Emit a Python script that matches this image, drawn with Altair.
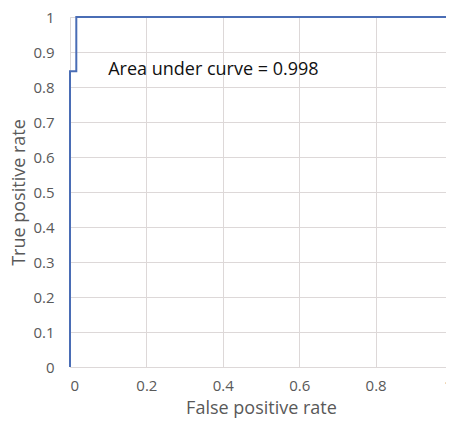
import altair as alt
import pandas as pd

fpr = [0.0, 0.0, 0.0165, 0.0165, 1.0]
tpr = [0.0, 0.845, 0.845, 1.0, 1.0]
order = list(range(len(fpr)))

x_ticks = [0, 0.2, 0.4, 0.6, 0.8, 1]
y_ticks = [0, 0.1, 0.2, 0.3, 0.4, 0.5, 0.6, 0.7, 0.8, 0.9, 1]

label_text = ["Area under curve = 0.998"]
label_x = [0.1]
label_y = [0.848]

df = pd.DataFrame({"fpr": fpr, "tpr": tpr, "order": order})
lab = pd.DataFrame({"text": label_text, "x": label_x, "y": label_y})

FONT = "Open Sans"
GREY = "#595959"

xscale = alt.Scale(domain=[0, 1], nice=False, zero=False)
yscale = alt.Scale(domain=[0, 1], nice=False, zero=False)

xaxis = alt.Axis(values=x_ticks, format="~g",
                 grid=True, gridColor="#DDD8D8", gridWidth=1,
                 domain=False, ticks=False, labelPadding=11,
                 labelOverlap=False,
                 labelFont=FONT, labelFontSize=15, labelColor=GREY,
                 titleFont=FONT, titleFontSize=18, titleColor=GREY,
                 titleFontWeight="normal", titlePadding=6)
yaxis = alt.Axis(values=y_ticks, format="~g",
                 grid=True, gridColor="#DDD8D8", gridWidth=1,
                 domain=False, ticks=False, labelPadding=16,
                 labelOverlap=False,
                 labelFont=FONT, labelFontSize=15, labelColor=GREY,
                 titleFont=FONT, titleFontSize=18, titleColor=GREY,
                 titleFontWeight="normal", titlePadding=4)

line = alt.Chart(df).mark_line(color="#4A6DB5", strokeWidth=2, clip=False).encode(
    x=alt.X("fpr:Q", scale=xscale, title="False positive rate", axis=xaxis),
    y=alt.Y("tpr:Q", scale=yscale, title="True positive rate", axis=yaxis),
    order="order:O",
)

text = alt.Chart(lab).mark_text(align="left", baseline="middle", font=FONT,
                                fontSize=18, color="#111111").encode(
    x=alt.X("x:Q", scale=xscale, title="False positive rate", axis=xaxis),
    y=alt.Y("y:Q", scale=yscale, title="True positive rate", axis=yaxis),
    text="text:N",
)

chart = (line + text).properties(
    width=382, height=350,
    padding={"left": 62, "top": 9, "right": -6, "bottom": 52},
    autosize=alt.AutoSizeParams(type="none"),
).configure_view(stroke=None).configure(background="white")

chart.save("out.html", embed_options={"renderer": "svg", "actions": False})
